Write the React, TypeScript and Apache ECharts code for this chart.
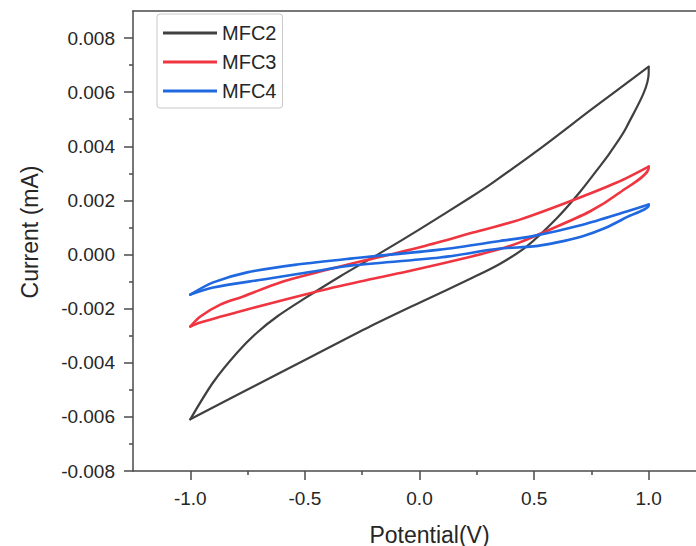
import React, { useEffect, useRef } from "react";
import * as echarts from "echarts";

// ---- Data (Potential in V, Current in mA) ----
const seriesNames = ["MFC2", "MFC3", "MFC4"];

// MFC2: forward sweep (-1 -> 1) then reverse sweep (1 -> -1)
const mfc2ForwardV = [-1.0, -0.9, -0.795, -0.708, -0.621, -0.508, -0.347, -0.172, 0.0, 0.22, 0.32, 0.538, 0.756, 1.0];
const mfc2ForwardI = [-0.00609, -0.00472, -0.00362, -0.00288, -0.00229, -0.00166, -0.00081, 0.00005, 0.00093, 0.0021, 0.00266, 0.00399, 0.0054, 0.00694];
const mfc2ReverseV = [1.0, 0.904, 0.83, 0.786, 0.699, 0.6, 0.468, 0.35, 0.233, 0.0, -0.216, -0.464, -0.752, -1.0];
const mfc2ReverseI = [0.00672, 0.00472, 0.00375, 0.00325, 0.0023, 0.00135, 0.0003, -0.00035, -0.00085, -0.00178, -0.00266, -0.00374, -0.005, -0.00609];

// MFC3
const mfc3ForwardV = [-1.0, -0.956, -0.869, -0.769, -0.608, -0.434, -0.259, 0.015, 0.233, 0.438, 0.643, 0.861, 1.0];
const mfc3ForwardI = [-0.00266, -0.00229, -0.00185, -0.00155, -0.00103, -0.00063, -0.00026, 0.0003, 0.00081, 0.00129, 0.00192, 0.00266, 0.00325];
const mfc3ReverseV = [1.0, 0.874, 0.743, 0.538, 0.438, 0.351, 0.205, -0.054, -0.259, -0.464, -0.752, -0.956, -1.0];
const mfc3ReverseI = [0.00321, 0.00229, 0.00159, 0.00081, 0.00045, 0.0002, -0.00012, -0.00063, -0.001, -0.0014, -0.00203, -0.00251, -0.00266];

// MFC4
const mfc4ForwardV = [-1.0, -0.9, -0.752, -0.534, -0.303, 0.089, 0.351, 0.495, 0.712, 0.904, 1.0];
const mfc4ForwardI = [-0.00148, -0.00103, -0.00066, -0.00037, -0.00015, 0.00018, 0.0005, 0.00068, 0.0011, 0.00159, 0.00185];
const mfc4ReverseV = [1.0, 0.904, 0.81, 0.712, 0.6, 0.495, 0.351, 0.089, -0.303, -0.464, -0.682, -0.9, -1.0];
const mfc4ReverseI = [0.00181, 0.00138, 0.00098, 0.00068, 0.00045, 0.0003, 0.00022, -0.00011, -0.00041, -0.00063, -0.00092, -0.00122, -0.00148];

// Axis ticks
const xTickMin = -1.0;
const xTickMax = 1.0;
const xTickStep = 0.5;
const yTickMin = -0.008;
const yTickMax = 0.008;
const yTickStep = 0.002;

const seriesColors = ["#404040", "#ef3540", "#1f68e0"];

function pairs(v: number[], i: number[]) {
  return v.map((x, k) => [x, i[k]]);
}

const FONT = "'Liberation Sans', Arial, Helvetica, sans-serif";

export default function App() {
  const ref = useRef<HTMLDivElement>(null);

  useEffect(() => {
    if (!ref.current) return;
    const chart = echarts.init(ref.current, null, { renderer: "svg" });

    // layout geometry
    const W = 696;
    const H = 546;
    const plotLeft = 133;
    const plotTop = 11;
    const plotBottomPx = 471;
    const pxPerX = 229.2;
    const xMin = -1.25;
    const xMax = xMin + (W - plotLeft) / pxPerX;
    const yMin = -0.008;
    const yMax = 0.009;
    const pxPerY = (plotBottomPx - plotTop) / (yMax - yMin);
    const g1Left = plotLeft + (xTickMin - xMin) * pxPerX;
    const g1Right = W - (plotLeft + (xTickMax - xMin) * pxPerX);
    const g1Top = plotTop + (yMax - yTickMax) * pxPerY;

    const axisColor = "#4a4a4a";
    const textColor = "#262626";

    const branches = [
      [pairs(mfc2ForwardV, mfc2ForwardI), pairs(mfc2ReverseV, mfc2ReverseI)],
      [pairs(mfc3ForwardV, mfc3ForwardI), pairs(mfc3ReverseV, mfc3ReverseI)],
      [pairs(mfc4ForwardV, mfc4ForwardI), pairs(mfc4ReverseV, mfc4ReverseI)],
    ];

    const series: any[] = [];
    seriesNames.forEach((name, k) => {
      const [fwd, rev] = branches[k];
      const revJoined = [fwd[fwd.length - 1], ...rev];
      [fwd, revJoined].forEach((d) => {
        series.push({
          name,
          type: "line",
          xAxisIndex: 0,
          yAxisIndex: 0,
          data: d,
          showSymbol: false,
          symbol: "none",
          smooth: 0.3,
          color: seriesColors[k],
          lineStyle: { color: seriesColors[k], width: k === 0 ? 2.2 : 2.6, cap: "round", join: "round" },
          clip: true,
        });
      });
    });

    const lineOnly = { show: true, onZero: false, lineStyle: { color: axisColor, width: 1.5 } };

    chart.setOption({
      animation: false,
      backgroundColor: "#ffffff",
      textStyle: { fontFamily: FONT },
      grid: [
        { left: plotLeft, top: plotTop, right: 0, bottom: H - plotBottomPx, show: false, containLabel: false, outerBoundsMode: "none" },
        { left: g1Left, right: g1Right, top: g1Top, bottom: H - plotBottomPx, show: false, containLabel: false, outerBoundsMode: "none" },
      ],
      legend: {
        data: seriesNames,
        orient: "vertical",
        left: 157,
        top: 14,
        icon: "rect",
        itemWidth: 54,
        itemHeight: 3,
        itemGap: 9,
        itemTextGap: 6,
        padding: [9, 6, 7, 6],
        borderColor: "#c8c8c8",
        borderWidth: 1,
        borderRadius: 3,
        textStyle: { fontSize: 20, color: textColor, fontFamily: FONT },
      },
      xAxis: [
        {
          type: "value",
          gridIndex: 0,
          min: xMin,
          max: xMax,
          axisLine: lineOnly,
          axisTick: { show: false },
          axisLabel: { show: false },
          splitLine: { show: false },
          name: "Potential(V)",
          nameLocation: "middle",
          nameGap: 52,
          nameTextStyle: { fontSize: 23, color: textColor, fontFamily: FONT, padding: [0, 0, 0, 30] },
        },
        {
          type: "value",
          gridIndex: 1,
          min: xTickMin,
          max: xTickMax,
          interval: xTickStep,
          axisLine: { show: false, onZero: false },
          axisTick: { show: true, inside: false, length: 9, lineStyle: { color: axisColor, width: 1.5 } },
          minorTick: { show: true, splitNumber: 2, length: 4, lineStyle: { color: axisColor, width: 1.5 } },
          axisLabel: {
            show: true,
            margin: 18,
            fontSize: 19,
            color: textColor,
            fontFamily: FONT,
            formatter: (v: number) => v.toFixed(1),
          },
          splitLine: { show: false },
        },
        {
          type: "value",
          gridIndex: 0,
          position: "top",
          min: xMin,
          max: xMax,
          axisLine: lineOnly,
          axisTick: { show: false },
          axisLabel: { show: false },
          splitLine: { show: false },
        },
      ],
      yAxis: [
        {
          type: "value",
          gridIndex: 0,
          min: yMin,
          max: yMax,
          axisLine: lineOnly,
          axisTick: { show: false },
          axisLabel: { show: false },
          splitLine: { show: false },
          name: "Current (mA)",
          nameLocation: "middle",
          nameGap: 92,
          nameTextStyle: { fontSize: 23, color: textColor, fontFamily: FONT, padding: [0, 0, 0, 18] },
        },
        {
          type: "value",
          gridIndex: 1,
          offset: g1Left - plotLeft,
          min: yTickMin,
          max: yTickMax,
          interval: yTickStep,
          axisLine: { show: false, onZero: false },
          axisTick: { show: true, inside: false, length: 9, lineStyle: { color: axisColor, width: 1.5 } },
          minorTick: { show: true, splitNumber: 2, length: 4, lineStyle: { color: axisColor, width: 1.5 } },
          axisLabel: {
            show: true,
            margin: 18,
            fontSize: 19,
            color: textColor,
            fontFamily: FONT,
            formatter: (v: number) => v.toFixed(3),
          },
          splitLine: { show: false },
        },
      ],
      series,
    });

    return () => chart.dispose();
  }, []);

  return <div ref={ref} style={{ width: 696, height: 546, position: "absolute", left: 0, top: 0 }} />;
}
